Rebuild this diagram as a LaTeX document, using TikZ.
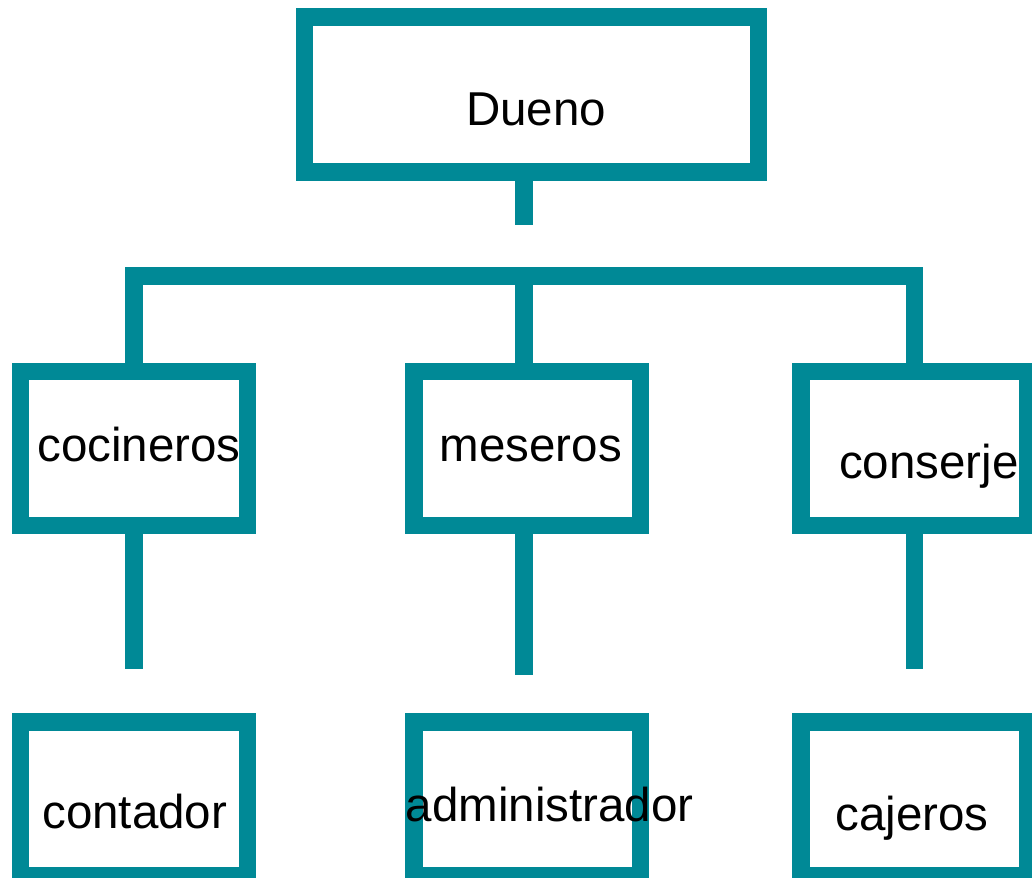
\documentclass[tikz,border=0pt]{standalone}
\usepackage{fontspec}
\setmainfont{Liberation Sans}
\usetikzlibrary{
    positioning,
    calc
}
\definecolor{orgteal}{RGB}{0,137,150}

\begin{document}
\begin{tikzpicture}[
    x=1pt, y=-1pt,
    box/.style={rectangle, minimum width=226.8pt, minimum height=154pt,
                inner sep=0pt, draw=orgteal, line width=17.5pt, fill=white},
    txt/.style={anchor=base, font=\fontsize{47.5}{57}\selectfont, text=black},
    link/.style={draw=orgteal, line width=17.5pt}
]

    % Page
    \fill[white] (0,0) rectangle (1032,877);
    \useasboundingbox (0,0) rectangle (1032,877);

    % Owner
    \node (dueno) [box, minimum width=453.8pt, minimum height=155pt] at (531.4,94.5) {};

    % Second level
    \node (coc) [box] at (133.9,448.5) {};
    \node (mes) [box] at (527.2,448.5) {};
    \node (con) [box] at (914.3,448.5) {};

    % Third level
    \node (cont) [box, below=179pt of coc] {};
    \node (admin) [box, below=179pt of mes] {};
    \node (caj) [box, below=179pt of con] {};

    % Connections
    \coordinate (hub) at (524,276);
    \coordinate (topstem) at (524,225);
    \coordinate (cocend) at ($(coc.south)+(0,135)$);
    \coordinate (mesend) at (524,675);
    \coordinate (conend) at ($(con.south)+(0,135)$);

    \draw [link] (dueno.south -| topstem) -- (topstem);
    \draw [link] (coc.north) |- (hub) -| (con.north);
    \draw [link] (hub) -- (hub |- mes.north);
    \draw [link] (coc.south) -- (cocend);
    \draw [link] (mes.south -| mesend) -- (mesend);
    \draw [link] (con.south) -- (conend);

    % Labels
    \node (t-dueno) [txt] at (536,126) {Dueno};
    \node (t-coc) [txt] at (139,461.7) {cocineros};
    \node (t-mes) [txt] at (530.8,461.7) {meseros};
    \node (t-con) [txt] at (929,478) {conserje};
    \node (t-cont) [txt] at (134.7,828.3) {contador};
    \node (t-admin) [txt] at (549.7,821.7) {administrador};
    \node (t-caj) [txt] at (912,830) {cajeros};

\end{tikzpicture}
\end{document}
